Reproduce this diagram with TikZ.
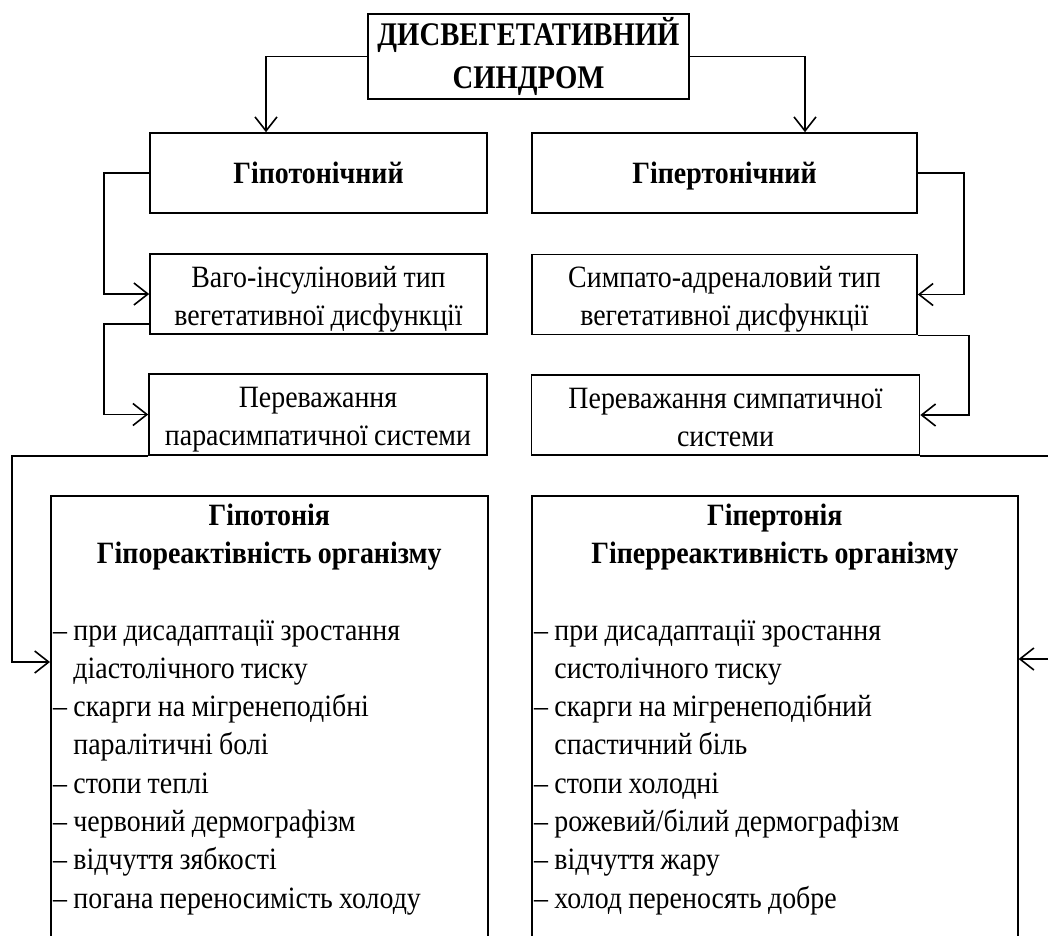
\documentclass[tikz,border=0pt]{standalone}
\usepackage{fontspec}
\setmainfont{Liberation Serif}[FakeStretch=0.9, WordSpace=0.9]
\newfontfamily\ttlfont{Liberation Serif}[FakeStretch=0.87, WordSpace=0.9]
\usetikzlibrary{arrows.meta}

\newcommand\txtsize{\fontsize{31}{38.3}\selectfont}
\newcommand\ttlsize{\fontsize{33}{43}\selectfont}
\newcommand\ind{\hphantom{– }}
% struts that fix the first baseline inside the boxes
\newcommand\tops[1]{\rule{0pt}{#1pt}}
\newcommand\bots[1]{\rule[-#1pt]{0pt}{#1pt}}

\begin{document}
\begin{tikzpicture}[x=1pt,y=-1pt,
  ln/.style={line width=1.6pt},
  box/.style={draw, ln, inner sep=0pt, align=center, font=\txtsize},
  arr/.style={ln, -{Straight Barb[length=14pt,width=22pt]}}]

\path[use as bounding box] (0,0) rectangle (1048,935);
\clip (0,0) rectangle (1048,935);

% root
\node[box, minimum width=321pt, minimum height=85pt, font=\ttlfont\ttlsize\bfseries] (top) at (528.5,56.5)
  {\tops{30}ДИСВЕГЕТАТИВНИЙ\\СИНДРОМ\bots{10}};

% left branch
\node[box, minimum width=337pt, minimum height=80pt, font=\txtsize\bfseries] (hypo) at (318.5,173)
  {\tops{28}Гіпотонічний\bots{8}};
\node[box, minimum width=337pt, minimum height=80pt] (vago) at (318.5,294)
  {\tops{32.3}Ваго-інсуліновий тип\\вегетативної дисфункції\bots{8}};
\node[box, minimum width=338pt, minimum height=81pt] (para) at (318,414.5)
  {\tops{32.3}Переважання\\парасимпатичної системи\bots{8}};

% right branch
\node[box, minimum width=385pt, minimum height=80pt, font=\txtsize\bfseries] (hyper) at (724.5,173)
  {\tops{28}Гіпертонічний\bots{8}};
\node[box, minimum width=385pt, minimum height=80pt] (symp) at (724.5,294.5)
  {\tops{32.3}Симпато-адреналовий тип\\вегетативної дисфункції\bots{8}};
\node[box, minimum width=388pt, minimum height=80pt] (symd) at (725.5,415)
  {\tops{32.3}Переважання симпатичної\\системи\bots{8}};

% large description boxes (run past the lower edge)
\node[draw, ln, inner sep=0pt, minimum width=437pt, minimum height=480pt, anchor=north west] (bigL) at (50,495) {};
\node[draw, ln, inner sep=0pt, minimum width=486pt, minimum height=480pt, anchor=north west] (bigR) at (531,495) {};

\node[anchor=base, inner sep=0pt, text width=437pt, align=flush center, font=\txtsize\bfseries] (hL) at (bigL.north |- 0,525) {Гіпотонія\\Гіпореактівність організму};
\node[anchor=base, inner sep=0pt, text width=486pt, align=flush center, font=\txtsize\bfseries] (hR) at (bigR.north |- 0,525) {Гіпертонія\\Гіперреактивність організму};

\node[anchor=base west, inner sep=0pt, text width=430pt, align=flush left, font=\txtsize] (lL) at (53,640) {%
– при дисадаптації зростання\\
\ind діастолічного тиску\\
– скарги на мігренеподібні\\
\ind паралітичні болі\\
– стопи теплі\\
– червоний дермографізм\\
– відчуття зябкості\\
– погана переносимість холоду};

\node[anchor=base west, inner sep=0pt, text width=480pt, align=flush left, font=\txtsize] (lR) at (534,640) {%
– при дисадаптації зростання\\
\ind систолічного тиску\\
– скарги на мігренеподібний\\
\ind спастичний біль\\
– стопи холодні\\
– рожевий/білий дермографізм\\
– відчуття жару\\
– холод переносять добре};

% connectors
\draw[arr] (top.west) -| (hypo.north -| 266,0);
\draw[arr] (top.east) -| (hyper.north -| 805,0);

\draw[arr] (hypo.west) -- ++(-45,0) |- (vago.west);
\draw[arr] ([yshift=11pt]vago.south west) -- ++(-45,0) |- (para.west);
\draw[arr] (para.south west) -| (12,662) -- (bigL.west |- 0,662);

\draw[arr] (hyper.east) -- ++(46,0) |- (symp.east);
\draw[arr] (symp.south east) -- ++(51,0) |- (symd.east);
\draw[arr] (symd.south east) -| (1060,659) -- (bigR.east |- 0,659);

\end{tikzpicture}
\end{document}
